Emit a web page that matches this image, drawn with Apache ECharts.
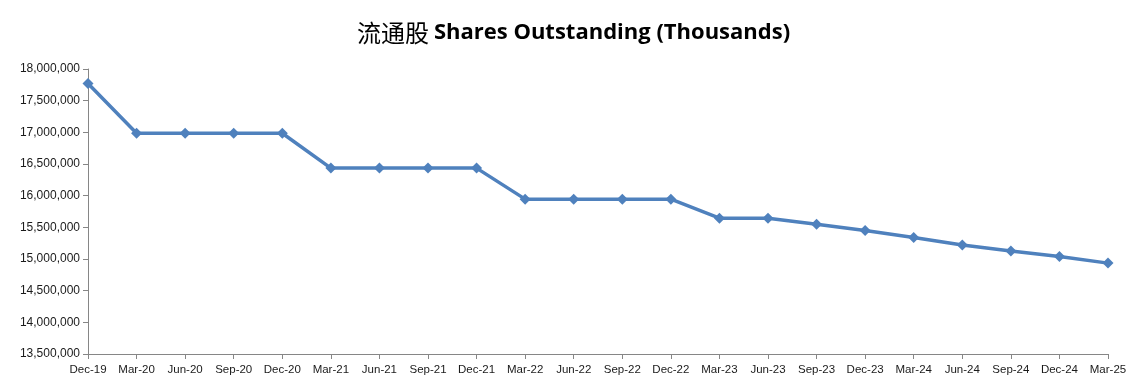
<!DOCTYPE html>
<html>
<head>
<meta charset="utf-8">
<script src="https://cdn.jsdelivr.net/npm/echarts@6/dist/echarts.min.js"></script>
<style>
html,body{margin:0;padding:0;background:#fff;}
#c{width:1147px;height:387px;}
</style>
</head>
<body>
<div id="c"></div>
<script>
const categories = ['Dec-19','Mar-20','Jun-20','Sep-20','Dec-20','Mar-21','Jun-21','Sep-21','Dec-21','Mar-22','Jun-22','Sep-22','Dec-22','Mar-23','Jun-23','Sep-23','Dec-23','Mar-24','Jun-24','Sep-24','Dec-24','Mar-25'];
const sharesOutstanding = [17770000,16985000,16985000,16985000,16985000,16435000,16435000,16435000,16435000,15945000,15945000,15945000,15945000,15645000,15645000,15550000,15450000,15340000,15220000,15125000,15040000,14935000];
const yMin = 13500000, yMax = 18000000, yStep = 500000;

const chart = echarts.init(document.getElementById('c'));
chart.setOption({
  animation: false,
  backgroundColor: '#ffffff',
  title: {
    text: '{cn|流通股} {en|Shares Outstanding (Thousands)}',
    left: 'center',
    top: 16,
    textStyle: {
      rich: {
        cn: {fontFamily: '"Noto Sans CJK SC"', fontSize: 24, fontWeight: 'normal', color: '#000'},
        en: {fontFamily: '"Open Sans", "Liberation Sans", sans-serif', fontSize: 22, fontWeight: 'bold', color: '#000'}
      }
    }
  },
  grid: {left: 88, right: 39, top: 69, bottom: 33, containLabel: false},
  xAxis: {
    type: 'category',
    data: categories,
    boundaryGap: false,
    axisLine: {lineStyle: {color: '#868686', width: 1}},
    axisTick: {show: true, length: 5, lineStyle: {color: '#868686'}},
    axisLabel: {color: '#1a1a1a', fontFamily: '"Liberation Sans", Arial, sans-serif', fontSize: 11.5, margin: 10, interval: 0},
    splitLine: {show: false}
  },
  yAxis: {
    type: 'value',
    min: yMin, max: yMax, interval: yStep,
    axisLine: {show: true, lineStyle: {color: '#868686', width: 1}},
    axisTick: {show: true, length: 5, lineStyle: {color: '#868686'}},
    axisLabel: {
      color: '#1a1a1a', fontFamily: '"Liberation Sans", Arial, sans-serif', fontSize: 12, margin: 8,
      formatter: v => v.toLocaleString('en-US')
    },
    splitLine: {show: false}
  },
  series: [{
    type: 'line',
    data: sharesOutstanding,
    symbol: 'diamond',
    symbolSize: 11,
    lineStyle: {color: '#4F81BD', width: 3.5},
    itemStyle: {color: '#4F81BD'}
  }]
});
</script>
</body>
</html>
